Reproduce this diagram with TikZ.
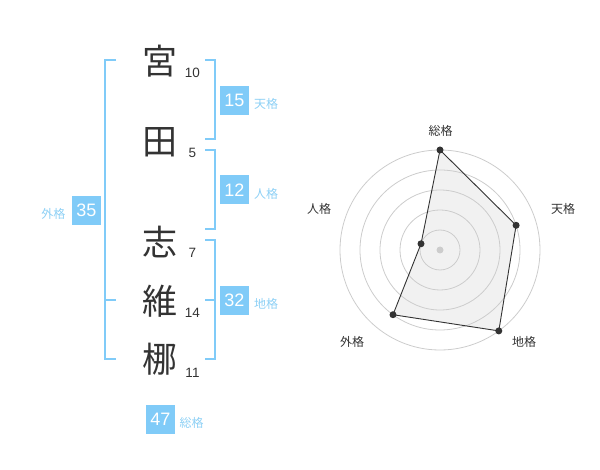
\documentclass[tikz,border=0pt]{standalone}
\usepackage{fontspec}
\setmainfont{Liberation Sans}
\newfontfamily\jp{Noto Sans CJK JP}
\definecolor{boxblue}{HTML}{80CBF8}
\definecolor{lblblue}{HTML}{8DD0F5}
\definecolor{dark}{HTML}{333333}
\definecolor{ring}{HTML}{CCCCCC}
\definecolor{area}{HTML}{EEEEEE}
\tikzset{
  kanji/.style={inner sep=0pt, text=dark, font=\jp\fontsize{35}{38}\selectfont},
  stroke/.style={inner sep=0pt, text=dark, font=\fontsize{13.5}{15}\selectfont},
  valbox/.style={fill=boxblue, text=white, minimum width=29pt, minimum height=29pt, inner sep=0pt, font=\fontsize{18}{20}\selectfont},
  kaku/.style={inner sep=0pt, text=lblblue, font=\jp\fontsize{12}{14}\selectfont},
  brk/.style={draw=boxblue, line width=2pt},
  radlbl/.style={inner sep=0pt, text=dark, font=\jp\fontsize{12}{14}\selectfont},
  ringline/.style={draw=ring, line width=0.8pt},
  dot/.style={circle, fill=dark, inner sep=0pt, minimum size=7pt},
}
\begin{document}
\begin{tikzpicture}[x=1pt, y=-1pt]
\useasboundingbox (0,0) rectangle (600,470);
% kanji
\node[kanji] (k1) at (160,61) {宮};
\node[kanji] (k2) at (160,142) {田};
\node[kanji] (k3) at (160,242) {志};
\node[kanji] (k4) at (160,301) {維};
\node[kanji] (k5) at (160,359) {梛};
% stroke counts
\node[stroke] (s1) at (192.5,73) {10};
\node[stroke] (s2) at (192.5,153) {5};
\node[stroke] (s3) at (192.5,253) {7};
\node[stroke] (s4) at (192.5,313) {14};
\node[stroke] (s5) at (192.5,373) {11};
% brackets
\draw[brk] (116,60) -- (105,60) -- (105,359) -- (116,359);
\draw[brk] (105,300) -- (116,300);
\draw[brk] (205,60) -- (215,60) -- (215,139) -- (205,139);
\draw[brk] (205,150) -- (215,150) -- (215,229) -- (205,229);
\draw[brk] (205,240) -- (215,240) -- (215,359) -- (205,359);
\draw[brk] (205,300) -- (215,300);
% boxes and labels
\node[valbox] (b15) at (234.5,100.5) {15};
\node[kaku] (l15) at (266,104) {天格};
\node[valbox] (b12) at (234.5,190) {12};
\node[kaku] (l12) at (266,194) {人格};
\node[valbox] (b35) at (86.5,210.5) {35};
\node[kaku] (l35) at (53.5,214) {外格};
\node[valbox] (b32) at (234.5,300.5) {32};
\node[kaku] (l32) at (266,304) {地格};
\node[valbox] (b47) at (160.5,419) {47};
\node[kaku] (l47) at (191.5,423) {総格};
% radar
\coordinate (c) at (440,250);
\coordinate (p1) at (440,150);
\coordinate (p2) at (516.1,225.3);
\coordinate (p3) at (498.8,330.9);
\coordinate (p4) at (393.0,314.7);
\coordinate (p5) at (421.0,243.8);
\fill[area, opacity=0.8] (p1) -- (p2) -- (p3) -- (p4) -- (p5) -- cycle;
\foreach \r in {20,40,60,80,100} \draw[ringline] (c) circle (\r);
\fill[ring] (c) circle (3.5);
\draw[dark, line width=0.9pt] (p1) -- (p2) -- (p3) -- (p4) -- (p5) -- cycle;
\foreach \p in {p1,p2,p3,p4,p5} \node[dot] at (\p) {};
\node[radlbl] (r1) at (440.5,130.5) {総格};
\node[radlbl] (r2) at (563,209) {天格};
\node[radlbl] (r3) at (524,342) {地格};
\node[radlbl] (r4) at (352,342) {外格};
\node[radlbl] (r5) at (319,209) {人格};
\end{tikzpicture}
\end{document}
